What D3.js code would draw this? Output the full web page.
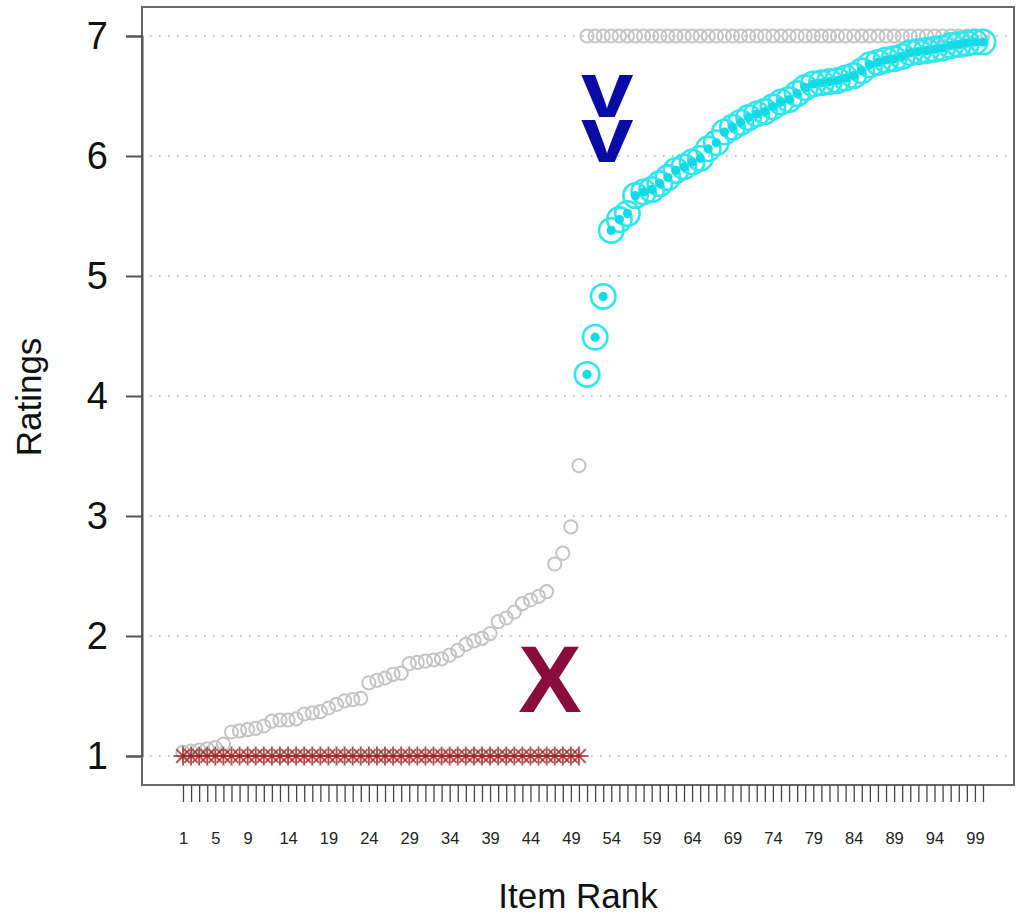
<!DOCTYPE html>
<html>
<head>
<meta charset="utf-8">
<script src="https://cdn.jsdelivr.net/npm/d3@7"></script>
<style>
  html, body { margin: 0; padding: 0; background: #fff; }
  svg { display: block; font-family: "Liberation Sans", Arial, sans-serif; }
</style>
</head>
<body>
<svg id="chart" width="1019" height="917"></svg>
<script>
// Item ranks 1..100
const itemRanks = d3.range(1, 101);

// All ratings in rank order (open gray circles)
const allRatings = [
  1.03, 1.04, 1.05, 1.06, 1.07, 1.10, 1.20, 1.21, 1.22, 1.23,
  1.25, 1.29, 1.30, 1.30, 1.31, 1.35, 1.36, 1.37, 1.40, 1.43,
  1.46, 1.47, 1.48, 1.61, 1.63, 1.65, 1.68, 1.69, 1.77, 1.78,
  1.79, 1.80, 1.81, 1.84, 1.88, 1.93, 1.96, 1.98, 2.02, 2.12,
  2.15, 2.20, 2.27, 2.30, 2.33, 2.37, 2.60, 2.69, 2.91, 3.42,
  7, 7, 7, 7, 7, 7, 7, 7, 7, 7,
  7, 7, 7, 7, 7, 7, 7, 7, 7, 7,
  7, 7, 7, 7, 7, 7, 7, 7, 7, 7,
  7, 7, 7, 7, 7, 7, 7, 7, 7, 7,
  7, 7, 7, 7, 7, 7, 7, 7, 7, 7
];

// Rejected items (ranks 1..50), all at the floor rating
const rejectedRanks = d3.range(1, 51);
const rejectedRatings = rejectedRanks.map(() => 1);

// Accepted items (ranks 51..100)
const acceptedRanks = d3.range(51, 101);
const acceptedRatings = [
  4.18, 4.49, 4.83, 5.38, 5.47, 5.52, 5.67, 5.70, 5.72, 5.77,
  5.82, 5.88, 5.91, 5.95, 5.98, 6.06, 6.11, 6.20, 6.24, 6.28,
  6.32, 6.35, 6.37, 6.41, 6.45, 6.47, 6.52, 6.57, 6.60, 6.61,
  6.62, 6.63, 6.65, 6.67, 6.71, 6.76, 6.78, 6.80, 6.81, 6.83,
  6.86, 6.87, 6.88, 6.89, 6.90, 6.92, 6.93, 6.94, 6.95, 6.95
];

// Axis ticks
const yTicks = [1, 2, 3, 4, 5, 6, 7];
const xTickLabels = [1, 5, 9, 14, 19, 24, 29, 34, 39, 44, 49, 54, 59, 64, 69, 74, 79, 84, 89, 94, 99];

const svg = d3.select("#chart");

const plot = { left: 142, right: 1014, top: 7, bottom: 785 };

const x = d3.scaleLinear().domain([1, 100]).range([183, 983]);
const y = d3.scaleLinear().domain([1, 7]).range([756, 36]);

// Dotted horizontal reference lines
svg.append("g").selectAll("line")
  .data(yTicks).join("line")
  .attr("x1", plot.left + 8).attr("x2", plot.right - 6)
  .attr("y1", d => y(d)).attr("y2", d => y(d))
  .attr("stroke", "#c4c4c4").attr("stroke-width", 2)
  .attr("stroke-dasharray", "1.6 7.4");

// All ratings: open gray circles
svg.append("g").selectAll("circle")
  .data(itemRanks).join("circle")
  .attr("cx", d => x(d))
  .attr("cy", (d, i) => y(allRatings[i]))
  .attr("r", 6.6)
  .attr("fill", "none")
  .attr("stroke", "#c4c4c4")
  .attr("stroke-width", 2);

// Rejected items: asterisks
const star = svg.append("g").attr("stroke", "#a02424").attr("stroke-width", 1.9)
  .attr("stroke-opacity", 0.8);
rejectedRanks.forEach((r, i) => {
  const cx = x(r), cy = y(rejectedRatings[i]), s = 9.5, d = s * 0.72;
  star.append("line").attr("x1", cx - s).attr("x2", cx + s).attr("y1", cy).attr("y2", cy);
  star.append("line").attr("x1", cx).attr("x2", cx).attr("y1", cy - s).attr("y2", cy + s);
  star.append("line").attr("x1", cx - d).attr("x2", cx + d).attr("y1", cy - d).attr("y2", cy + d);
  star.append("line").attr("x1", cx - d).attr("x2", cx + d).attr("y1", cy + d).attr("y2", cy - d);
});

// Accepted items: ring with a solid centre
const acc = svg.append("g");
acc.selectAll("circle.ring")
  .data(acceptedRanks).join("circle").attr("class", "ring")
  .attr("cx", d => x(d))
  .attr("cy", (d, i) => y(acceptedRatings[i]))
  .attr("r", 12.2)
  .attr("fill", "none")
  .attr("stroke", "#2fe6ee")
  .attr("stroke-width", 2.6);
acc.selectAll("circle.dot")
  .data(acceptedRanks).join("circle").attr("class", "dot")
  .attr("cx", d => x(d))
  .attr("cy", (d, i) => y(acceptedRatings[i]))
  .attr("r", 4.6)
  .attr("fill", "#12dbe6");

// Annotations
svg.append("text")
  .attr("x", x(46.4)).attr("y", y(1.367))
  .attr("text-anchor", "middle")
  .attr("font-weight", "bold").attr("font-size", 95)
  .attr("fill", "#8a0c3c")
  .text("X");

// Stacked chevrons above the accepted group (one text, two lines)
const vx = x(53.5), vTop = y(6.325), vBot = y(5.95);
const vText = svg.append("text")
  .attr("transform", `translate(${vx},${vTop}) scale(1.18,1)`)
  .attr("text-anchor", "middle")
  .attr("font-weight", "bold").attr("font-size", 80)
  .attr("fill", "#0a0aa6");
vText.append("tspan").attr("x", 0).attr("y", 0).text("v");
vText.append("tspan").attr("x", 0).attr("y", vBot - vTop).text("v");

// Plot box
svg.append("rect")
  .attr("x", plot.left).attr("y", plot.top)
  .attr("width", plot.right - plot.left).attr("height", plot.bottom - plot.top)
  .attr("fill", "none").attr("stroke", "#666").attr("stroke-width", 2);

// Y axis
const yAxis = d3.axisLeft(y).tickValues(yTicks).tickSize(16).tickPadding(18)
  .tickFormat(d3.format("d"));
const gy = svg.append("g").attr("transform", `translate(${plot.left},0)`).call(yAxis);
gy.select(".domain").attr("stroke", "#555").attr("stroke-width", 2);
gy.selectAll(".tick line").attr("stroke", "#555").attr("stroke-width", 2);
gy.selectAll(".tick text").attr("font-size", 38).attr("fill", "#111")
  .attr("font-family", "Liberation Sans, Arial, sans-serif");

// X axis: a tick for every rank, labels at selected ranks
const xAxis = d3.axisBottom(x).tickValues(itemRanks).tickSize(17).tickPadding(30)
  .tickFormat(d => xTickLabels.includes(d) ? d : "");
const gx = svg.append("g").attr("transform", `translate(0,${plot.bottom})`).call(xAxis);
gx.select(".domain").remove();
gx.selectAll(".tick line").attr("stroke", "#444").attr("stroke-width", 1.3);
gx.selectAll(".tick text").attr("font-size", 16.5).attr("fill", "#222")
  .attr("font-family", "Liberation Sans, Arial, sans-serif");

// Axis titles
svg.append("text")
  .attr("x", 578).attr("y", 908)
  .attr("text-anchor", "middle").attr("font-size", 35).attr("fill", "#111")
  .text("Item Rank");
svg.append("text")
  .attr("transform", "translate(41,397) rotate(-90)")
  .attr("text-anchor", "middle").attr("font-size", 35).attr("fill", "#111")
  .text("Ratings");
</script>
</body>
</html>
